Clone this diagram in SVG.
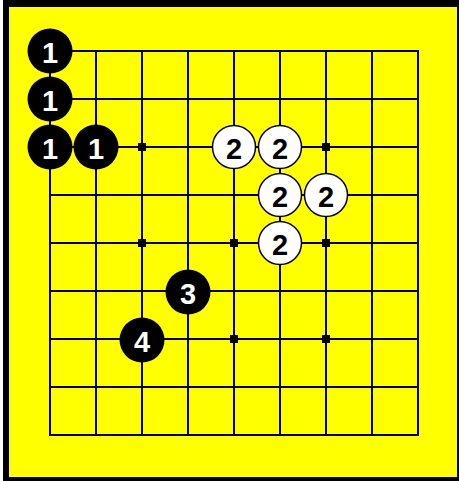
<svg xmlns="http://www.w3.org/2000/svg" width="459" height="481" viewBox="0 0 459 481">
<style>
.grid line{stroke:#000;stroke-width:2}
.star{fill:#000}
.b{fill:#000}
.w{fill:#fff;stroke:#000;stroke-width:1.5}
.tb{fill:#fff;font-family:"Liberation Sans",Arial,sans-serif;font-weight:bold;font-size:29px;text-anchor:middle}
.tw{fill:#000;font-family:"Liberation Sans",Arial,sans-serif;font-weight:bold;font-size:29px;text-anchor:middle}
</style>
<rect x="3" y="0" width="456" height="481" fill="#000"/>
<rect x="9" y="7" width="448" height="470" fill="#ffff00"/>
<g id="connectors" class="grid">
<line x1="50" y1="51" x2="50" y2="435"/>
<line x1="96" y1="51" x2="96" y2="435"/>
<line x1="142" y1="51" x2="142" y2="435"/>
<line x1="188" y1="51" x2="188" y2="435"/>
<line x1="234" y1="51" x2="234" y2="435"/>
<line x1="280" y1="51" x2="280" y2="435"/>
<line x1="326" y1="51" x2="326" y2="435"/>
<line x1="372" y1="51" x2="372" y2="435"/>
<line x1="418" y1="51" x2="418" y2="435"/>
<line x1="49" y1="51" x2="419" y2="51"/>
<line x1="49" y1="99" x2="419" y2="99"/>
<line x1="49" y1="147" x2="419" y2="147"/>
<line x1="49" y1="195" x2="419" y2="195"/>
<line x1="49" y1="243" x2="419" y2="243"/>
<line x1="49" y1="291" x2="419" y2="291"/>
<line x1="49" y1="339" x2="419" y2="339"/>
<line x1="49" y1="387" x2="419" y2="387"/>
<line x1="49" y1="435" x2="419" y2="435"/>
</g>
<g id="stars">
<rect class="star" x="138" y="143" width="8" height="8"/>
<rect class="star" x="322" y="143" width="8" height="8"/>
<rect class="star" x="138" y="239" width="8" height="8"/>
<rect class="star" x="230" y="239" width="8" height="8"/>
<rect class="star" x="322" y="239" width="8" height="8"/>
<rect class="star" x="230" y="335" width="8" height="8"/>
<rect class="star" x="322" y="335" width="8" height="8"/>
</g>
<g id="b1a"><circle class="b" cx="50" cy="51" r="22.5"/><text class="tb" x="50" y="62.5">1</text></g>
<g id="b1b"><circle class="b" cx="50" cy="99" r="22.5"/><text class="tb" x="50" y="110.5">1</text></g>
<g id="b1c"><circle class="b" cx="50" cy="147" r="22.5"/><text class="tb" x="50" y="158.5">1</text></g>
<g id="b1d"><circle class="b" cx="96" cy="147" r="22.5"/><text class="tb" x="96" y="158.5">1</text></g>
<g id="w2a"><circle class="w" cx="234" cy="147" r="21.5"/><text class="tw" x="234" y="158.5">2</text></g>
<g id="w2b"><circle class="w" cx="280" cy="147" r="21.5"/><text class="tw" x="280" y="158.5">2</text></g>
<g id="w2c"><circle class="w" cx="280" cy="195" r="21.5"/><text class="tw" x="280" y="206.5">2</text></g>
<g id="w2d"><circle class="w" cx="326" cy="195" r="21.5"/><text class="tw" x="326" y="206.5">2</text></g>
<g id="w2e"><circle class="w" cx="280" cy="243" r="21.5"/><text class="tw" x="280" y="254.5">2</text></g>
<g id="b3"><circle class="b" cx="188" cy="292" r="22.5"/><text class="tb" x="188" y="303.5">3</text></g>
<g id="b4"><circle class="b" cx="142" cy="340" r="22.5"/><text class="tb" x="142" y="351.5">4</text></g>
</svg>
